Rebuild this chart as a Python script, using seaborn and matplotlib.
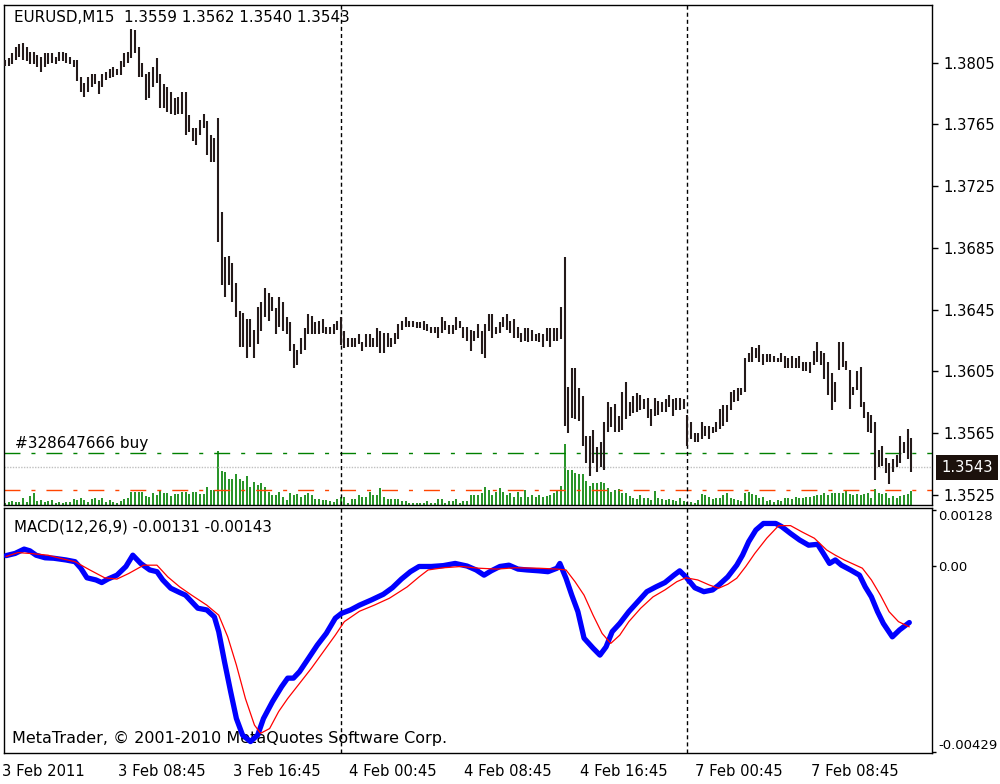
import numpy as np
import pandas as pd
import matplotlib
matplotlib.use('Agg')
import matplotlib.pyplot as plt
import matplotlib.transforms as mtransforms
import seaborn as sns

# --- data ---
symbol = 'EURUSD,M15'
last_ohlc = [1.3559, 1.3562, 1.3540, 1.3543]

# bar highs / lows in pips above 1.3500, one value per M15 bar
high_pips = [
    307, 308, 311, 315, 317, 318, 315, 312, 312, 310,
    309, 311, 311, 311, 309, 312, 312, 311, 309, 307,
    307, 296, 292, 296, 298, 298, 293, 298, 299, 301,
    302, 301, 306, 311, 312, 327, 326, 315, 305, 298,
    299, 302, 308, 298, 291, 289, 286, 282, 283, 286,
    286, 271, 263, 263, 268, 272, 267, 258, 256, 269,
    208, 179, 180, 175, 162, 144, 143, 139, 139, 132,
    147, 150, 159, 156, 153, 146, 153, 150, 140, 137,
    123, 119, 127, 133, 142, 141, 137, 138, 139, 134,
    134, 136, 138, 140, 131, 127, 127, 127, 129, 124,
    129, 129, 127, 133, 131, 130, 130, 127, 130, 136,
    138, 140, 138, 138, 137, 137, 138, 136, 134, 134,
    134, 140, 138, 135, 135, 140, 138, 134, 134, 132,
    131, 136, 131, 136, 142, 142, 134, 137, 140, 142,
    138, 139, 134, 130, 133, 133, 132, 129, 130, 129,
    133, 133, 133, 133, 147, 179, 95, 107, 107, 94,
    89, 63, 63, 67, 56, 59, 72, 85, 82, 84,
    76, 92, 98, 85, 89, 91, 90, 87, 88, 81,
    88, 86, 85, 87, 90, 87, 88, 88, 87, 77,
    72, 65, 65, 72, 70, 70, 69, 72, 81, 83,
    83, 92, 93, 94, 94, 114, 117, 121, 120, 122,
    116, 116, 116, 115, 114, 117, 115, 114, 115, 114,
    115, 111, 111, 111, 118, 124, 118, 117, 111, 104,
    98, 124, 124, 112, 106, 95, 105, 108, 85, 79,
    77, 72, 54, 57, 49, 46, 48, 51, 63, 59,
    68, 62,
]
low_pips = [
    303, 303, 304, 307, 309, 307, 306, 304, 304, 302,
    299, 302, 304, 305, 304, 306, 306, 305, 304, 302,
    293, 286, 283, 286, 289, 291, 285, 289, 294, 295,
    296, 297, 297, 302, 305, 308, 311, 296, 296, 281,
    282, 289, 292, 276, 276, 273, 272, 271, 272, 272,
    258, 260, 254, 252, 258, 263, 245, 241, 241, 189,
    161, 153, 161, 150, 140, 121, 121, 114, 121, 114,
    123, 131, 140, 138, 144, 129, 134, 131, 129, 118,
    107, 109, 116, 119, 129, 129, 129, 129, 130, 129,
    129, 129, 132, 122, 120, 121, 121, 121, 123, 118,
    121, 121, 121, 121, 117, 117, 121, 121, 123, 126,
    132, 134, 134, 134, 133, 133, 132, 131, 130, 130,
    127, 130, 132, 129, 129, 132, 133, 127, 125, 118,
    125, 127, 116, 114, 131, 127, 129, 130, 134, 132,
    130, 127, 127, 124, 125, 124, 125, 125, 124, 121,
    125, 121, 125, 125, 126, 70, 65, 75, 74, 73,
    57, 46, 37, 46, 40, 43, 41, 66, 69, 66,
    66, 67, 74, 76, 78, 79, 80, 81, 75, 70,
    76, 77, 79, 79, 82, 76, 80, 80, 81, 57,
    61, 59, 59, 61, 63, 61, 65, 66, 68, 70,
    72, 80, 85, 86, 90, 92, 111, 111, 114, 111,
    109, 111, 111, 111, 111, 111, 107, 107, 107, 107,
    107, 105, 105, 104, 109, 111, 109, 100, 90, 80,
    85, 106, 108, 106, 81, 90, 93, 82, 75, 66,
    65, 35, 43, 44, 39, 32, 40, 43, 46, 52,
    48, 40,
]
tick_volume = [
    2, 3, 4, 3, 3, 7, 3, 9, 12, 4,
    5, 3, 4, 5, 2, 3, 2, 3, 3, 6,
    5, 7, 5, 3, 6, 7, 5, 7, 3, 5,
    3, 2, 4, 6, 7, 13, 13, 13, 13, 9,
    8, 12, 10, 15, 12, 12, 9, 11, 11, 13,
    13, 11, 13, 13, 11, 11, 18, 15, 15, 54,
    34, 33, 26, 26, 31, 26, 24, 29, 18, 23,
    20, 22, 18, 13, 10, 10, 13, 8, 5, 12,
    10, 11, 8, 10, 12, 10, 6, 6, 5, 5,
    4, 3, 6, 8, 8, 2, 6, 6, 10, 8,
    8, 13, 10, 10, 17, 8, 6, 6, 6, 6,
    4, 4, 2, 2, 2, 2, 2, 4, 2, 2,
    6, 6, 2, 4, 4, 6, 2, 4, 4, 10,
    10, 10, 12, 18, 15, 10, 13, 17, 13, 10,
    12, 8, 13, 8, 15, 8, 10, 8, 10, 8,
    9, 10, 12, 15, 19, 61, 35, 35, 32, 31,
    31, 24, 19, 22, 22, 23, 22, 17, 13, 15,
    16, 12, 12, 9, 7, 6, 10, 7, 7, 5,
    14, 7, 6, 5, 6, 5, 4, 7, 4, 3,
    3, 2, 5, 11, 10, 8, 6, 7, 7, 10,
    12, 7, 6, 5, 4, 12, 13, 11, 10, 7,
    8, 4, 5, 3, 5, 4, 7, 7, 6, 8,
    7, 7, 8, 8, 9, 10, 10, 12, 10, 12,
    12, 12, 12, 14, 11, 10, 11, 10, 11, 12,
    7, 16, 12, 11, 12, 7, 9, 7, 9, 10,
    11, 14,
]

# MACD main line and signal line: bar position, value in 1e-5
macd_bar = [
    0.3, 2.8, 5.3, 6.9, 8.6, 11.1, 13.5, 16.9, 19.4, 21.0,
    22.7, 25.2, 26.8, 28.5, 31.0, 33.5, 35.4, 37.6, 40.1, 42.1,
    43.7, 45.9, 48.4, 50.0, 51.7, 53.4, 55.9, 58.0, 59.2, 60.8,
    62.5, 64.1, 65.8, 68.0, 70.0, 71.6, 74.1, 76.6, 78.3, 79.9,
    81.6, 84.1, 86.5, 89.0, 91.5, 93.2, 95.7, 98.2, 101.5, 104.8,
    107.3, 109.8, 112.3, 114.7, 118.1, 121.4, 124.7, 128.0, 130.5, 132.7,
    134.7, 137.1, 139.6, 142.1, 144.6, 147.9, 150.4, 152.9, 153.7, 155.4,
    157.0, 158.7, 160.4, 162.9, 164.8, 166.5, 168.2, 170.3, 172.8, 175.3,
    177.8, 180.3, 182.8, 185.3, 186.9, 188.6, 191.1, 193.6, 196.0, 197.7,
    200.2, 202.7, 204.3, 206.0, 208.0, 210.1, 213.5, 215.1, 217.6, 220.1,
    222.6, 225.1, 226.7, 228.4, 230.0, 231.7, 234.2, 236.7, 238.3, 240.0,
    241.7, 243.3, 245.8, 247.8, 250.5,
]
macd_val = [
    23, 28, 38, 34, 24, 18, 17, 13, 9, -6,
    -28, -33, -39, -31, -22, -2, 24, 5, -10, -14,
    -33, -52, -62, -68, -83, -98, -102, -118, -152, -221,
    -290, -352, -390, -405, -390, -352, -313, -279, -259, -259,
    -244, -213, -183, -156, -121, -110, -102, -91, -79, -66,
    -51, -31, -14, -2, -2, 0, 5, -1, -10, -22,
    -12, -2, 1, -8, -10, -12, -14, -6, 5, -29,
    -68, -106, -167, -190, -206, -187, -152, -133, -106, -83,
    -60, -49, -39, -22, -12, -26, -51, -60, -56, -45,
    -26, 1, 24, 55, 82, 97, 97, 90, 74, 59,
    47, 49, 28, 5, 13, 1, -10, -22, -49, -72,
    -106, -133, -164, -148, -131,
]
signal_bar = [
    0.3, 3.6, 6.9, 11.9, 15.2, 19.4, 23.5, 27.6, 31.0, 34.3,
    38.4, 42.1, 45.1, 48.4, 51.7, 55.9, 59.2, 61.7, 64.1, 66.6,
    69.1, 70.8, 73.3, 75.8, 78.3, 81.6, 84.9, 88.2, 91.5, 94.0,
    98.2, 102.3, 106.5, 111.4, 114.7, 117.2, 121.4, 126.4, 131.3, 136.3,
    141.3, 147.9, 152.9, 155.4, 157.9, 160.4, 162.9, 165.4, 167.8, 170.3,
    172.8, 176.1, 179.5, 182.8, 186.1, 188.6, 191.9, 195.2, 197.7, 200.2,
    202.7, 205.2, 207.7, 211.0, 214.3, 217.6, 220.9, 224.2, 227.6, 230.0,
    232.5, 237.5, 240.0, 242.5, 244.9, 247.5, 250.5,
]
signal_val = [
    21, 30, 28, 24, 17, 9, -10, -28, -31, -18,
    1, 1, -26, -49, -68, -91, -114, -164, -229, -306,
    -367, -386, -375, -336, -306, -271, -236, -198, -160, -129,
    -105, -91, -75, -49, -26, -10, -5, -2, -6, -8,
    -5, -6, -8, -10, -37, -68, -114, -156, -179, -160,
    -129, -98, -72, -56, -37, -28, -33, -45, -52, -43,
    -29, -2, 28, 63, 92, 92, 77, 63, 36, 24,
    13, -6, -33, -68, -106, -129, -141,
]

time_ticks = [0, 32, 64, 96, 128, 160, 192, 224]
time_labels = ['3 Feb 2011', '3 Feb 08:45', '3 Feb 16:45', '4 Feb 00:45',
               '4 Feb 08:45', '4 Feb 16:45', '7 Feb 00:45', '7 Feb 08:45']
day_separators = [93, 189]
price_ticks = [1.3525, 1.3565, 1.3605, 1.3645, 1.3685, 1.3725, 1.3765, 1.3805]
buy_level = 1.3552
stop_level = 1.3528
order_label = '#328647666 buy'
macd_title = 'MACD(12,26,9) -0.00131 -0.00143'
macd_ticks = [0.00128, 0.0, -0.00429]
macd_tick_labels = ['0.00128', '0.00', '-0.00429']
copyright = 'MetaTrader, \u00a9 2001-2010 MetaQuotes Software Corp.'

# --- build frames ---
bars = pd.DataFrame({'high': 1.35 + np.array(high_pips) / 10000,
                     'low': 1.35 + np.array(low_pips) / 10000,
                     'volume': tick_volume})
bars['bar'] = np.arange(len(bars))
macd = pd.DataFrame({'bar': macd_bar, 'value': np.array(macd_val) * 1e-5})
signal = pd.DataFrame({'bar': signal_bar, 'value': np.array(signal_val) * 1e-5})

sns.set_style('white')
plt.rcParams['font.family'] = ['DejaVu Sans']
plt.rcParams['font.size'] = 10.5

W, H = 1000, 784
fig = plt.figure(figsize=(W / 100, H / 100), dpi=100)


def px_axes(left, top, right, bottom):
    return fig.add_axes([left / W, 1 - bottom / H, (right - left) / W, (bottom - top) / H])


ax = px_axes(4, 5, 932, 505)
axm = px_axes(4, 508, 932, 753)

step = 3.61  # pixels per bar
xlim = (-1 / step, 927 / step)
dash_dot = (0, (11.5, 7.9, 2.9, 7.9))
sep_dash = (0, (2.9, 2.2))

# price panel
vol_tr = mtransforms.blended_transform_factory(ax.transData, ax.transAxes)
ax.vlines(bars['bar'], 0, bars['volume'] / 500, transform=vol_tr,
          colors='#008000', lw=1.2, zorder=1)
ax.axhline(buy_level, color='#008000', lw=1, ls=dash_dot, zorder=2)
ax.axhline(stop_level, color='#ff4500', lw=1, ls=dash_dot, zorder=2)
ax.axhline(last_ohlc[3], color='#c0c0c0', lw=1, ls=(0, (1, 1)), zorder=2)
ax.vlines(bars['bar'], bars['low'], bars['high'], colors='#241a1a', lw=1.5, zorder=3)
for s in day_separators:
    ax.axvline(s, color='black', lw=1, ls=sep_dash, zorder=2)

ax.set_xlim(*xlim)
ax.set_ylim(1.35185, 1.38424)
ax.set_xticks([])
ax.yaxis.tick_right()
ax.set_yticks(price_ticks)
ax.set_yticklabels([f'{p:.4f}' for p in price_ticks])
ax.tick_params(axis='y', direction='out', length=4, width=1, pad=4,
               labelsize=10.6, colors='black')

header = f'{symbol}  ' + ' '.join(f'{v:.4f}' for v in last_ohlc)
ax.text(0.011, 0.974, header, transform=ax.transAxes, ha='left', va='center',
        fontsize=10.9, color='black')
ax.annotate(order_label, xy=(0, buy_level), xycoords=('axes fraction', 'data'),
            xytext=(11, 5), textcoords='offset pixels', ha='left', va='baseline',
            fontsize=11, color='black')
ax.annotate(f'{last_ohlc[3]:.4f}', xy=(1, last_ohlc[3]),
            xycoords=('axes fraction', 'data'), xytext=(9, 0),
            textcoords='offset pixels', ha='left', va='center', fontsize=10.6,
            color='white', annotation_clip=False,
            bbox=dict(boxstyle='square,pad=0.35', fc='#1c110c', ec='none'))

# MACD panel
sns.lineplot(data=macd, x='bar', y='value', ax=axm, color='#0000ff', lw=3.8,
             sort=False, estimator=None, zorder=3)
sns.lineplot(data=signal, x='bar', y='value', ax=axm, color='#ff0000', lw=0.9,
             sort=False, estimator=None, zorder=4)
for s in day_separators:
    axm.axvline(s, color='black', lw=1, ls=sep_dash, zorder=2)

axm.set_xlim(*xlim)
axm.set_ylim(-0.004313, 0.001326)
axm.set_xlabel('')
axm.set_ylabel('')
axm.yaxis.tick_right()
axm.set_yticks(macd_ticks)
axm.set_yticklabels(macd_tick_labels)
axm.tick_params(axis='y', direction='out', length=3, width=1, pad=1.5,
                labelsize=9.5, colors='black')
ylabels = axm.get_yticklabels()
ylabels[0].set_va('top')
ylabels[-1].set_va('bottom')

axm.set_xticks(time_ticks)
axm.set_xticklabels(time_labels)
axm.tick_params(axis='x', direction='out', length=5, width=1, pad=3,
                labelsize=10.6, colors='black')
shift = mtransforms.ScaledTranslation(-3 / 100, 0, fig.dpi_scale_trans)
for lab in axm.get_xticklabels():
    lab.set_ha('left')
    lab.set_transform(lab.get_transform() + shift)

axm.text(0.011, 0.922, macd_title, transform=axm.transAxes, ha='left',
         va='center', fontsize=10.8, color='black')
axm.text(0.009, 0.061, copyright, transform=axm.transAxes, ha='left',
         va='center', fontsize=11.5, color='black', zorder=1)

for a in (ax, axm):
    for sp in a.spines.values():
        sp.set_color('black')
        sp.set_linewidth(1)

fig.savefig('out.png', dpi=100, facecolor='white')
